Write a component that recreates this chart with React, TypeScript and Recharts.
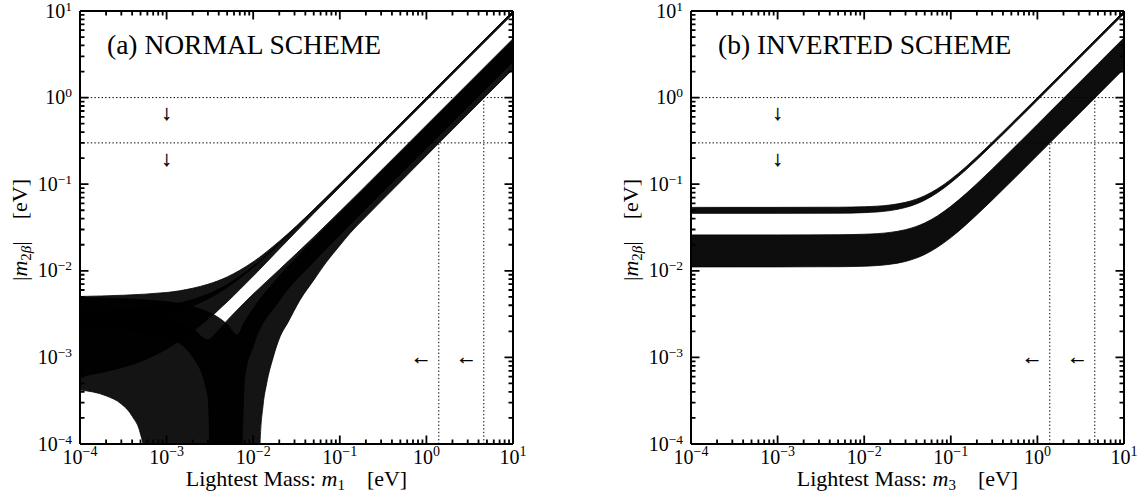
import React from 'react';
import { ComposedChart, Area, XAxis, YAxis, ReferenceLine, Scatter } from 'recharts';

const FONT = '"Liberation Serif", "DejaVu Serif", "Times New Roman", serif';

// ---------- axes ----------
const DOMAIN: [number, number] = [1e-4, 10];
const MAJOR_TICKS = [1e-4, 1e-3, 1e-2, 1e-1, 1, 10];
const TICK_EXPONENTS = ['\u22124', '\u22123', '\u22122', '\u22121', '0', '1'];
const MINOR_STEPS = [2, 3, 4, 5, 6, 7, 8, 9];
const MINOR_TICKS = MAJOR_TICKS.slice(0, -1).flatMap((d) => MINOR_STEPS.map((s) => s * d));
const ALL_TICKS = [...MAJOR_TICKS, ...MINOR_TICKS].sort((a, b) => a - b);

// ---------- experimental limits ----------
const LIMIT_Y = [1.0, 0.3];
const LIMIT_X = [4.6, 1.39];
const ARROW_DOWN_X = [1e-3, 1e-3];
const ARROW_DOWN_Y = [0.66, 0.195];
const ARROW_LEFT_X = [0.87, 2.9];
const ARROW_LEFT_Y = [1e-3, 1e-3];

// ---------- (a) normal scheme bands ----------
const N1_MASS = [1e-4, 1e-3, 2e-3, 3e-3, 5e-3, 7e-3, 1e-2, 2e-2, 5e-2, 0.1, 1, 10];
const N1_LOW = [0.00249, 0.00316, 0.00394, 0.00474, 0.0064, 0.00819, 0.01092, 0.02051, 0.05022, 0.1001, 0.99, 9.9];
const N1_HIGH = [0.00505, 0.00562, 0.00629, 0.00699, 0.00848, 0.01014, 0.01269, 0.0219, 0.05103, 0.1006, 1.0, 10.0];

const N2_MASS = [1e-4, 1e-3, 2e-3, 3e-3, 3.6e-3, 4e-3, 5e-3, 7e-3, 1e-2, 2e-2, 5e-2, 0.1, 1, 10];
const N2_LOW = [0.0006, 0.00125, 0.00199, 0.00276, 0.00322, 0.00356, 0.00437, 0.00608, 0.00869, 0.01783, 0.04586, 0.09248, 0.928, 9.28];
const N2_HIGH = [0.00338, 0.00396, 0.00465, 0.00538, 0.00581, 0.00615, 0.00692, 0.00863, 0.01126, 0.0207, 0.0503, 0.1002, 1.0, 10.0];

const N3_MASS = [1e-4, 2e-4, 3e-4, 4e-4, 5e-4, 5.4e-4, 5.8e-4, 7e-4, 1e-3, 1.5e-3, 2e-3, 3e-3, 3.6e-3, 4e-3, 5e-3, 6.5e-3, 8e-3, 1e-2, 2e-2, 5e-2, 0.1, 1, 10];
const N3_LOW = [4.2e-4, 3.6e-4, 2.9e-4, 2.1e-4, 1.3e-4, 9e-5, 1e-6, 1e-6, 1e-6, 1e-6, 1e-6, 1e-6, 1e-6, 1e-6, 1e-6, 1e-6, 6e-4, 1.34e-3, 4.5e-3, 0.0127, 0.02585, 0.26, 2.6];
const N3_HIGH = [3.25e-3, 3.19e-3, 3.12e-3, 3.06e-3, 3.0e-3, 2.98e-3, 2.95e-3, 2.88e-3, 2.7e-3, 2.41e-3, 2.13e-3, 1.6e-3, 1.84e-3, 2.07e-3, 2.67e-3, 3.51e-3, 4.33e-3, 5.39e-3, 0.01031, 0.02451, 0.04826, 0.4794, 4.794];

const N4_MASS = [1e-4, 1e-3, 2e-3, 3e-3, 3.6e-3, 4e-3, 5e-3, 6.5e-3, 8e-3, 1e-2, 1.15e-2, 1.2e-2, 1.3e-2, 1.43e-2, 1.7e-2, 2.04e-2, 2.5e-2, 3.47e-2, 5e-2, 7e-2, 0.1, 0.131, 0.2, 0.5, 1, 2, 5, 10];
const N4_LOW = [2.34e-3, 1.7e-3, 1.02e-3, 3.6e-4, 1e-6, 1e-6, 1e-6, 1e-6, 1e-6, 1e-6, 1e-6, 1e-4, 2.8e-4, 5e-4, 1.0e-3, 1.73e-3, 2.5e-3, 4.6e-3, 7.8e-3, 0.0126, 0.0196, 0.0271, 0.042, 0.106, 0.213, 0.427, 1.07, 2.13];
const N4_HIGH = [4.93e-3, 4.4e-3, 3.86e-3, 3.35e-3, 3.06e-3, 2.87e-3, 2.41e-3, 1.81e-3, 2.6e-3, 3.68e-3, 4.46e-3, 4.72e-3, 5.23e-3, 5.88e-3, 7.2e-3, 8.89e-3, 0.01108, 0.01566, 0.02278, 0.03205, 0.04589, 0.06018, 0.09195, 0.23, 0.46, 0.92, 2.3, 4.6];

// ---------- (b) inverted scheme bands ----------
const I_MASS = [1e-4, 1e-3, 5e-3, 1e-2, 2e-2, 3e-2, 4e-2, 5e-2, 7e-2, 0.1, 0.15, 0.2, 0.3, 0.5, 1, 2, 5, 10];
const I1_LOW = [0.04604, 0.04604, 0.04627, 0.04696, 0.04965, 0.05383, 0.05919, 0.06543, 0.07973, 0.10377, 0.1469, 0.19161, 0.28278, 0.46728, 0.93114, 1.8601, 4.65, 9.3];
const I1_HIGH = [0.054, 0.05401, 0.05423, 0.05492, 0.05758, 0.06177, 0.0672, 0.07359, 0.08841, 0.11365, 0.15942, 0.20716, 0.30482, 0.5029, 1.0015, 2.0007, 5.0003, 10.0];
const I2_LOW = [0.01109, 0.0111, 0.01115, 0.0113, 0.0119, 0.01283, 0.01404, 0.01545, 0.0187, 0.02419, 0.03411, 0.04441, 0.06545, 0.10807, 0.21529, 0.43006, 1.075, 2.15];
const I2_HIGH = [0.02597, 0.02597, 0.02609, 0.02643, 0.02776, 0.02984, 0.03254, 0.0357, 0.04302, 0.05546, 0.07795, 0.10138, 0.14928, 0.24637, 0.49069, 0.98034, 2.4501, 4.9];

// ---------- helpers ----------
const toRows = (mass: number[], low: number[], high: number[]) =>
  mass.map((m, i) => ({ m, range: [low[i], high[i]] }));
const toPoints = (xs: number[], ys: number[]) => xs.map((m, i) => ({ m, y: ys[i] }));

const NORMAL_BANDS = [
  toRows(N1_MASS, N1_LOW, N1_HIGH),
  toRows(N2_MASS, N2_LOW, N2_HIGH),
  toRows(N3_MASS, N3_LOW, N3_HIGH),
  toRows(N4_MASS, N4_LOW, N4_HIGH),
];
const INVERTED_BANDS = [toRows(I_MASS, I1_LOW, I1_HIGH), toRows(I_MASS, I2_LOW, I2_HIGH)];

const majorIndex = (v: number) => MAJOR_TICKS.findIndex((t) => Math.abs(v / t - 1) < 1e-9);

// ---------- layout ----------
const PANEL_W = 535;
const PANEL_H = 498;
const Y_AXIS_W = 80;
const X_AXIS_H = 54;
const MARGIN = { top: 11, right: 22, bottom: 0, left: 0 };
// plot box implied by the layout above
const PLOT = {
  left: MARGIN.left + Y_AXIS_W,
  right: PANEL_W - MARGIN.right,
  top: MARGIN.top,
  bottom: PANEL_H - MARGIN.bottom - X_AXIS_H,
};
const L0 = Math.log10(DOMAIN[0]);
const L1 = Math.log10(DOMAIN[1]);
const axisX = (v: number) => PLOT.left + ((Math.log10(v) - L0) / (L1 - L0)) * (PLOT.right - PLOT.left);
const axisY = (v: number) => PLOT.bottom - ((Math.log10(v) - L0) / (L1 - L0)) * (PLOT.bottom - PLOT.top);

const MAJOR_LEN = 8.5;
const MINOR_LEN = 4.5;

function InwardTicks() {
  const items: React.ReactNode[] = [];
  ALL_TICKS.forEach((t, i) => {
    if (t <= DOMAIN[0] || t >= DOMAIN[1]) return;
    const len = majorIndex(t) >= 0 ? MAJOR_LEN : MINOR_LEN;
    const x = axisX(t);
    const y = axisY(t);
    items.push(
      <path
        key={i}
        d={`M${x},${PLOT.bottom}V${PLOT.bottom - len}M${x},${PLOT.top}V${PLOT.top + len}M${PLOT.left},${y}H${PLOT.left + len}M${PLOT.right},${y}H${PLOT.right - len}`}
        stroke="#000"
        strokeWidth={1.8}
        fill="none"
      />
    );
  });
  return <g>{items}</g>;
}

const XTickLabel = (props: any) => {
  const { x, y, payload } = props;
  const idx = majorIndex(payload.value);
  if (idx < 0) return <g />;
  return (
    <text x={x} y={y + 20} textAnchor="middle" fontFamily={FONT} fontSize={20} fill="#000">
      10
      <tspan dy={-8} fontSize={14}>
        {TICK_EXPONENTS[idx]}
      </tspan>
    </text>
  );
};

const YTickLabel = (props: any) => {
  const { x, y, payload } = props;
  const idx = majorIndex(payload.value);
  if (idx < 0) return <g />;
  return (
    <text x={x - 8} y={y + 6.5} textAnchor="end" fontFamily={FONT} fontSize={20} fill="#000">
      10
      <tspan dy={-7} fontSize={13.5}>
        {TICK_EXPONENTS[idx]}
      </tspan>
    </text>
  );
};

const ArrowShape = (glyph: string) => (p: any) => (
  <text
    x={p.cx}
    y={p.cy}
    textAnchor="middle"
    dominantBaseline="central"
    fontFamily={FONT}
    fontSize={21}
    fill="#000"
    stroke="#000"
    strokeWidth={0.35}
  >
    {glyph}
  </text>
);

const DOTTED = '1.4 2.2';

function Panel({ bands, opacity }: { bands: any[]; opacity: number }) {
  const common = {
    type: 'number' as const,
    scale: 'log' as const,
    domain: DOMAIN,
    allowDataOverflow: true,
    ticks: ALL_TICKS,
    interval: 0 as const,
    tickLine: false,
    tickSize: 0,
    tickMargin: 0,
    axisLine: false,
  };
  return (
    <ComposedChart width={PANEL_W} height={PANEL_H} margin={MARGIN}>
      <XAxis dataKey="m" {...common} height={X_AXIS_H} tick={XTickLabel} />
      <YAxis {...common} width={Y_AXIS_W} tick={YTickLabel} />
      {bands.map((rows, i) => (
        <Area
          key={i}
          data={rows}
          dataKey="range"
          type="monotone"
          fill="#000"
          fillOpacity={opacity}
          stroke="#000"
          strokeWidth={0.8}
          isAnimationActive={false}
          dot={false}
          activeDot={false}
        />
      ))}
      {LIMIT_Y.map((v) => (
        <ReferenceLine key={'h' + v} y={v} stroke="#000" strokeWidth={1} strokeDasharray={DOTTED} />
      ))}
      {LIMIT_X.map((v, i) => (
        <ReferenceLine
          key={'v' + v}
          segment={[
            { x: v, y: DOMAIN[0] },
            { x: v, y: LIMIT_Y[i] },
          ]}
          stroke="#000"
          strokeWidth={1}
          strokeDasharray={DOTTED}
        />
      ))}
      <ReferenceLine x={DOMAIN[0]} stroke="#000" strokeWidth={2} />
      <ReferenceLine x={DOMAIN[1]} stroke="#000" strokeWidth={2} />
      <ReferenceLine y={DOMAIN[0]} stroke="#000" strokeWidth={2} />
      <ReferenceLine y={DOMAIN[1]} stroke="#000" strokeWidth={2} />
      <Scatter data={toPoints(ARROW_DOWN_X, ARROW_DOWN_Y)} dataKey="y" shape={ArrowShape('\u2193')} isAnimationActive={false} />
      <Scatter data={toPoints(ARROW_LEFT_X, ARROW_LEFT_Y)} dataKey="y" shape={ArrowShape('\u2190')} isAnimationActive={false} />
    </ComposedChart>
  );
}

const PANELS = [
  { left: 0, title: '(a) NORMAL SCHEME', sub: '1', bands: NORMAL_BANDS, opacity: 0.92 },
  { left: 611, title: '(b) INVERTED SCHEME', sub: '3', bands: INVERTED_BANDS, opacity: 0.95 },
];

export default function App() {
  return (
    <div style={{ position: 'absolute', left: 0, top: 0, width: 1146, height: 498, background: '#fff' }}>
      {PANELS.map((p) => (
        <div key={p.title} style={{ position: 'absolute', left: p.left, top: 0 }}>
          <Panel bands={p.bands} opacity={p.opacity} />
        </div>
      ))}
      <svg
        width={1146}
        height={498}
        style={{ position: 'absolute', left: 0, top: 0, pointerEvents: 'none' }}
        fontFamily={FONT}
      >
        {PANELS.map((p) => (
          <g key={p.title} transform={`translate(${p.left},0)`}>
            <InwardTicks />
            <text x={107} y={54} fontSize={27.5} fill="#000">
              {p.title}
            </text>
            <text x={296.5} y={486} fontSize={22} textAnchor="middle" fill="#000">
              Lightest Mass:{'\u00a0'}
              <tspan fontStyle="italic">m</tspan>
              <tspan fontSize={15} dy={4}>
                {p.sub}
              </tspan>
              <tspan dy={-4}>{'\u00a0\u00a0\u00a0\u00a0'}[eV]</tspan>
            </text>
            <text x={27} y={230} fontSize={22} textAnchor="middle" fill="#000" transform="rotate(-90 27 230)">
              |<tspan fontStyle="italic">m</tspan>
              <tspan fontSize={15} dy={4}>
                2<tspan fontStyle="italic">β</tspan>
              </tspan>
              <tspan dy={-4}>|{'\u00a0\u00a0\u00a0\u00a0'}[eV]</tspan>
            </text>
          </g>
        ))}
      </svg>
    </div>
  );
}
